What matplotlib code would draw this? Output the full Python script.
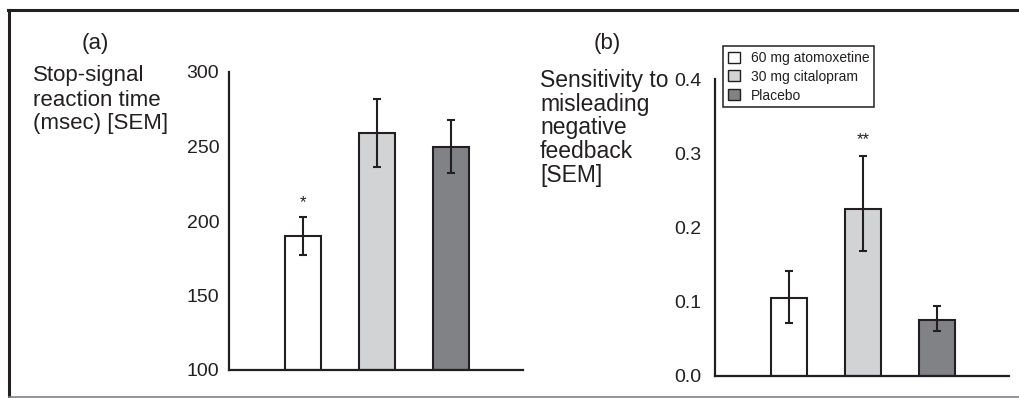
import matplotlib
matplotlib.use("Agg")
import matplotlib.pyplot as plt
from matplotlib.lines import Line2D
from matplotlib.patches import Patch

plt.rcParams['font.family'] = ['Liberation Sans', 'DejaVu Sans']

# ---- data ----
groups = ["60 mg atomoxetine", "30 mg citalopram", "Placebo"]
ssrt = [190, 259, 250]
ssrt_err = [13, 23, 18]
sens = [0.105, 0.225, 0.075]
sens_err_low = [0.034, 0.057, 0.014]
sens_err_high = [0.036, 0.071, 0.019]
ticks_a = [100, 150, 200, 250, 300]
ticks_b = [0.0, 0.1, 0.2, 0.3, 0.4]
tick_labels_b = ["0.0", "0.1", "0.2", "0.3", "0.4"]
sig_a = ["*", "", ""]
sig_b = ["", "**", ""]
ylabel_a = ["Stop-signal", "reaction time", "(msec) [SEM]"]
ylabel_b = ["Sensitivity to", "misleading", "negative", "feedback", "[SEM]"]

colors = ["#ffffff", "#d1d3d4", "#808285"]
ink = "#231f20"

W, H = 1020, 398
fig = plt.figure(figsize=(W / 100, H / 100), dpi=100)


def px_axes(l, r, t, b):
    return fig.add_axes([l / W, 1 - b / H, (r - l) / W, (b - t) / H])


def style(ax):
    for s in ["top", "right"]:
        ax.spines[s].set_visible(False)
    for s in ["left", "bottom"]:
        ax.spines[s].set_color(ink)
        ax.spines[s].set_linewidth(1.6)
    ax.tick_params(axis="y", length=0, labelsize=14, labelcolor=ink)
    ax.set_xticks([])
    ax.set_xlim(0, 3.97)


xs = [1, 2, 3]
bw = 0.49

# panel (a)
axa = px_axes(229, 523, 72, 370)
axa.bar(xs, [v - 100 for v in ssrt], bottom=100, width=bw, color=colors,
        edgecolor=ink, linewidth=1.5, zorder=2)
axa.errorbar(xs, ssrt, yerr=ssrt_err, fmt="none", ecolor=ink, elinewidth=1.5,
             capsize=3, capthick=1.5, zorder=3)
axa.set_ylim(100, 300)
axa.set_yticks(ticks_a)
style(axa)
axa.tick_params(axis="y", pad=7)
for x, v, e, s in zip(xs, ssrt, ssrt_err, sig_a):
    if s:
        axa.text(x, v + e + 4, s, ha="center", va="bottom", fontsize=12, color=ink)

# panel (b)
axb = px_axes(715, 1009, 79, 376)
axb.bar(xs, sens, width=bw, color=colors, edgecolor=ink, linewidth=1.5, zorder=2)
axb.errorbar(xs, sens, yerr=[sens_err_low, sens_err_high], fmt="none", ecolor=ink,
             elinewidth=1.5, capsize=3, capthick=1.5, zorder=3)
axb.set_ylim(0, 0.4)
axb.set_yticks(ticks_b)
axb.set_yticklabels(tick_labels_b)
style(axb)
axb.tick_params(axis="y", pad=10)
for x, v, e, s in zip(xs, sens, sens_err_high, sig_b):
    if s:
        axb.text(x, v + e + 0.012, s, ha="center", va="bottom", fontsize=12, color=ink)

handles = [Patch(facecolor=c, edgecolor=ink, linewidth=1) for c in colors]
leg = axb.legend(handles, groups, loc="upper left",
                 bbox_to_anchor=(723 / W, 1 - 46 / H), bbox_transform=fig.transFigure,
                 fontsize=10, frameon=True, fancybox=False, framealpha=1,
                 edgecolor=ink, handlelength=0.85, handleheight=0.85,
                 handletextpad=0.8, labelspacing=0.35, borderpad=0.35,
                 borderaxespad=0)
leg.get_frame().set_linewidth(1.1)
for t in leg.get_texts():
    t.set_color(ink)

# texts
def ftext(x, y, s, **kw):
    fig.text(x / W, 1 - y / H, s, color=ink, **kw)

ftext(95, 44, "(a)", ha="center", va="center", fontsize=16)
ftext(607, 44, "(b)", ha="center", va="center", fontsize=16)
for i, line in enumerate(ylabel_a):
    ftext(33, 81.5 + i * 24, line, ha="left", va="baseline", fontsize=16)
for i, line in enumerate(ylabel_b):
    ftext(540, 87 + i * 23.7, line, ha="left", va="baseline", fontsize=16.5)

# outer frame
fig.add_artist(Line2D([9 / W, 9 / W], [0, 1 - 10 / H], transform=fig.transFigure,
                      color=ink, linewidth=2.2))
fig.add_artist(Line2D([8 / W, 1], [1 - 10 / H, 1 - 10 / H], transform=fig.transFigure,
                      color=ink, linewidth=2.2))
fig.add_artist(Line2D([9 / W, 1], [1 - 397 / H, 1 - 397 / H], transform=fig.transFigure,
                      color="#808285", linewidth=1.2))

fig.savefig("out.png", dpi=100)
